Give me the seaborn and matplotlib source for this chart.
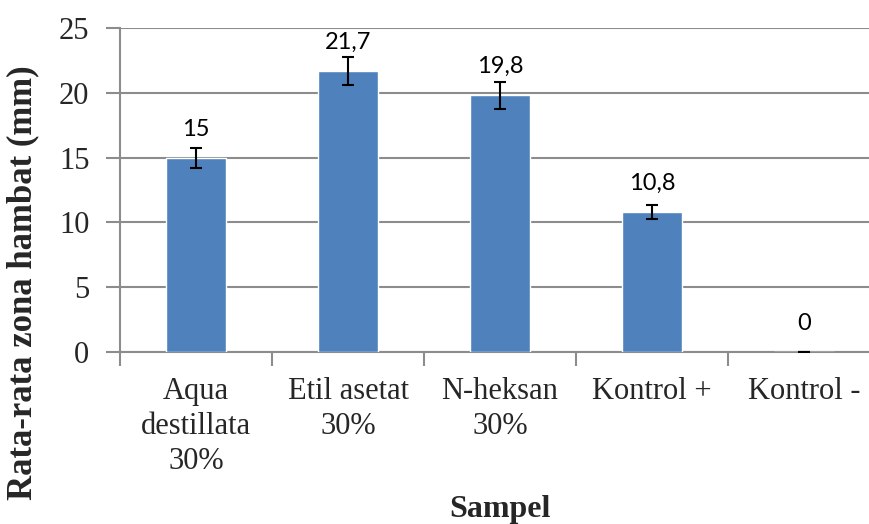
import matplotlib
matplotlib.use("Agg")
import matplotlib.pyplot as plt
import seaborn as sns
import pandas as pd

categories = ["Aqua\ndestillata\n30%", "Etil asetat\n30%", "N-heksan\n30%", "Kontrol +", "Kontrol -"]
values = [15, 21.7, 19.8, 10.8, 0]
errors = [0.77, 1.1, 1.03, 0.55, 0]
value_labels = ["15", "21,7", "19,8", "10,8", "0"]
y_ticks = [0, 5, 10, 15, 20, 25]

sns.set_theme(style="white")
plt.rcParams["font.family"] = ["Liberation Serif", "DejaVu Serif"]

df = pd.DataFrame({"Sampel": categories, "Nilai": values})

fig = plt.figure(figsize=(8.69, 5.24), dpi=100)
ax = fig.add_axes([120 / 869, (524 - 352) / 524, 760 / 869, 324 / 524])

sns.barplot(data=df, x="Sampel", y="Nilai", color="#4F81BD", width=0.4,
            saturation=1, ax=ax, errorbar=None, zorder=3)

xs = [p.get_x() + p.get_width() / 2 for p in ax.patches]
ax.errorbar(xs, values, yerr=errors, fmt="none", ecolor="black",
            elinewidth=1.5, capsize=4.5, capthick=1.5, zorder=4)

for x, v, lab in zip(xs, values, value_labels):
    ax.annotate(lab, (x, v), xytext=(0, 13), textcoords="offset points",
                ha="center", va="bottom", fontsize=17, family=["Lato", "DejaVu Sans"],
                color="black")

ax.set_xlim(-0.5, 4.5)
ax.set_ylim(0, 25)
ax.set_yticks(y_ticks)
ax.set_yticklabels([str(t) for t in y_ticks])
ax.yaxis.grid(True, color="#8c8c8c", linewidth=1.5, zorder=0)
ax.set_axisbelow(True)

for s in ["top", "right"]:
    ax.spines[s].set_visible(False)
for s in ["left", "bottom"]:
    ax.spines[s].set_color("#8c8c8c")
    ax.spines[s].set_linewidth(1.5)

# x ticks at category boundaries
ax.set_xticks([i - 0.5 for i in range(len(categories))], minor=False)
ax.set_xticklabels([])
ax.set_xticks(range(len(categories)), minor=True)
ax.set_xticklabels(categories, minor=True, fontsize=22, linespacing=1.27)
ax.tick_params(axis="x", which="major", length=10, width=1.5, color="#8c8c8c", direction="out", bottom=True)
ax.tick_params(axis="x", which="minor", length=0, pad=18)
ax.tick_params(axis="y", length=10, width=1.5, color="#8c8c8c", direction="out", left=True, labelsize=22, pad=12)

ax.set_xlabel("Sampel", fontsize=23, fontweight="bold")
ax.xaxis.set_label_coords(0.5, -(509 - 352) / 324, transform=ax.transAxes)
ax.xaxis.label.set_va("center")
ax.set_ylabel("Rata-rata zona hambat (mm)", fontsize=25, fontweight="bold")
ax.yaxis.set_label_coords(-(120 - 23) / 760, (352 - 283) / 324, transform=ax.transAxes)
ax.yaxis.label.set_va("center")

fig.savefig("out.png", dpi=100)
